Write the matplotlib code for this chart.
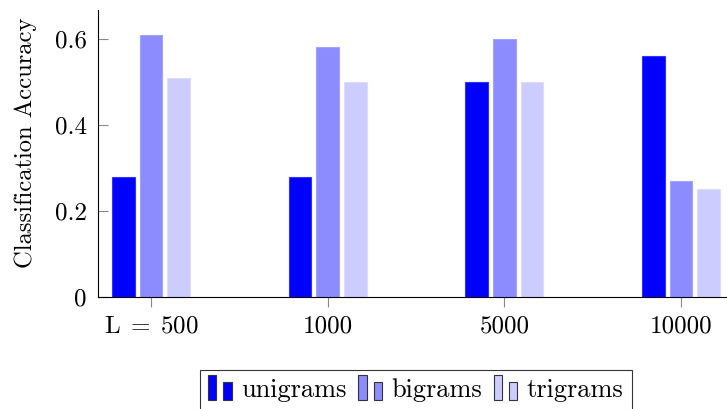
import matplotlib
matplotlib.use('Agg')
import matplotlib.pyplot as plt
import numpy as np
from matplotlib.legend_handler import HandlerBase
from matplotlib.patches import Rectangle

# Data
categories = [r'$\mathrm{L}\;=\;500$', '1000', '5000', '10000']
unigrams = [0.28, 0.28, 0.50, 0.56]
bigrams = [0.61, 0.58, 0.60, 0.27]
trigrams = [0.51, 0.50, 0.50, 0.25]

series = [('unigrams', unigrams, '#0000ff', '#3333ff'),
          ('bigrams', bigrams, '#8c8cff', '#a3a3ff'),
          ('trigrams', trigrams, '#ccccff', '#dcdcff')]

plt.rcParams['font.family'] = 'serif'
plt.rcParams['font.serif'] = ['cmr10', 'DejaVu Serif']
plt.rcParams['mathtext.fontset'] = 'cm'
plt.rcParams['axes.formatter.use_mathtext'] = True


class TwoBarHandler(HandlerBase):
    # pgfplots style ybar legend image: two small bars
    def create_artists(self, legend, orig_handle, xdescent, ydescent,
                       width, height, fontsize, trans):
        fc = orig_handle.get_facecolor()
        w = width * 0.3
        r1 = Rectangle((-xdescent, -ydescent - 0.2 * height), w, height * 1.35,
                       facecolor=fc, edgecolor='#333333', lw=0.8, transform=trans)
        r2 = Rectangle((-xdescent + width * 0.55, -ydescent - 0.2 * height), w, height * 1.0,
                       facecolor=fc, edgecolor='#333333', lw=0.8, transform=trans)
        return [r1, r2]


fig = plt.figure(figsize=(7.27, 4.09), dpi=100)
ax = fig.add_axes([0.1348, 0.2738, 0.8652, 0.7018])

x = np.arange(len(categories))
width = 0.128
offset = 0.157
handles = []
for i, (name, vals, fc, ec) in enumerate(series):
    bars = ax.bar(x + (i - 1) * offset, vals, width, color=fc, edgecolor=ec,
                  linewidth=0.8, label=name)
    handles.append(bars.patches[0])

ax.set_xlim(-0.3, 3.26)
ax.set_ylim(0, 0.667)
ax.set_xticks(x)
ax.set_xticklabels(categories)
ax.set_yticks([0, 0.2, 0.4, 0.6])
ax.set_yticklabels(['0', '0.2', '0.4', '0.6'])
ax.tick_params(axis='y', direction='in', length=7.5, color='#888888', labelsize=18, pad=8)
ax.tick_params(axis='x', direction='out', length=7.5, color='#888888', labelsize=18, pad=6)
ax.spines['top'].set_visible(False)
ax.spines['right'].set_visible(False)
ax.set_ylabel('Classification Accuracy', fontsize=17.7)
ax.yaxis.set_label_coords(-0.097, 0.537)

leg = fig.legend(handles, [s[0] for s in series], loc='upper center',
                 bbox_to_anchor=(0.572, 0.0954), ncol=3, fontsize=19,
                 handler_map={Rectangle: TwoBarHandler()},
                 frameon=True, fancybox=False, edgecolor='black',
                 handlelength=1.05, handletextpad=0.2, columnspacing=0.45,
                 borderpad=0.3, borderaxespad=0.0)
leg.get_frame().set_linewidth(0.8)

fig.savefig('out.png', dpi=100)
